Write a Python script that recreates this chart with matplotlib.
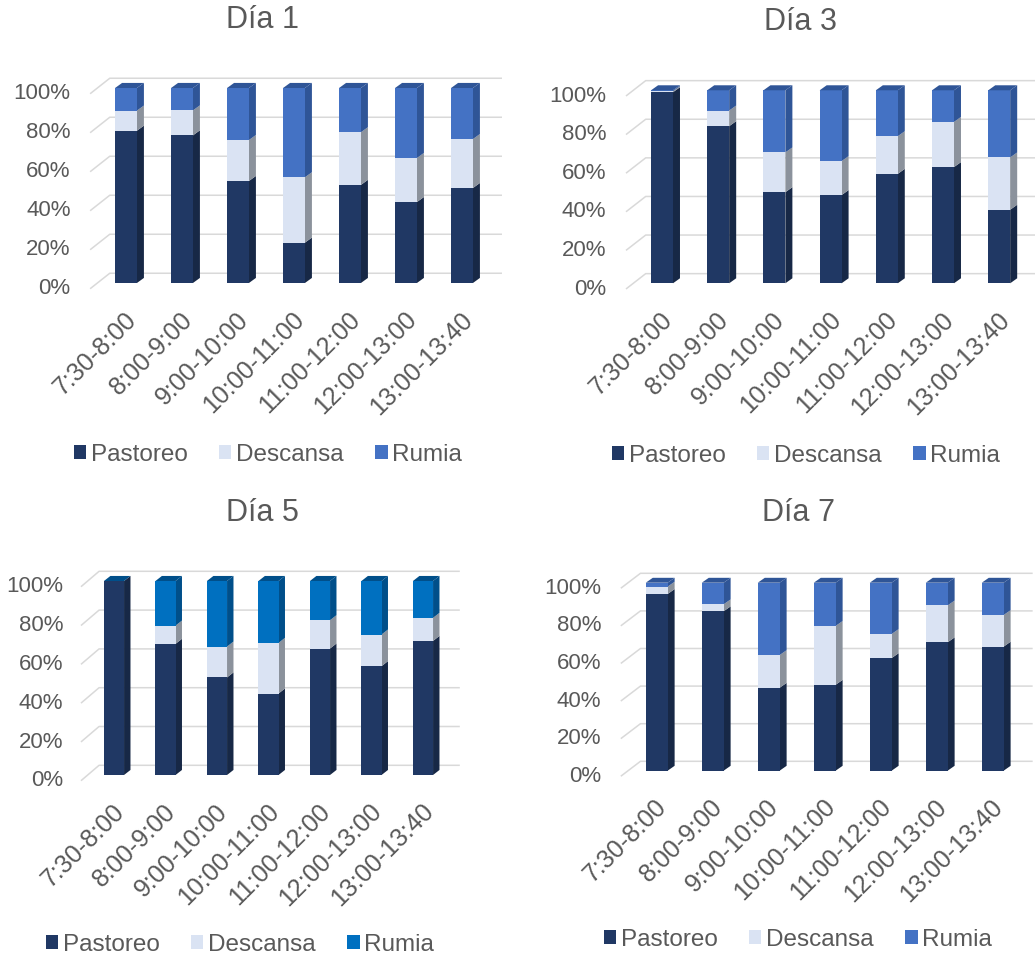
import matplotlib.pyplot as plt
from matplotlib.patches import Polygon
from matplotlib.transforms import ScaledTranslation

plt.rcParams['font.family'] = ['Liberation Sans', 'DejaVu Sans']

franjas = ["7:30-8:00", "8:00-9:00", "9:00-10:00", "10:00-11:00",
           "11:00-12:00", "12:00-13:00", "13:00-13:40"]
conductas = ["Pastoreo", "Descansa", "Rumia"]
dias = ["Día 1", "Día 3", "Día 5", "Día 7"]

# porcentaje de observaciones por franja horaria
pastoreo_d1 = [78.1, 75.7, 52.3, 20.7, 50.3, 41.5, 48.7]
descansa_d1 = [10.3, 12.8, 21.0, 33.5, 27.0, 22.6, 25.1]
rumia_d1 = [11.6, 11.5, 26.7, 45.8, 22.7, 35.9, 26.2]

pastoreo_d3 = [99.0, 81.4, 47.2, 45.7, 56.7, 60.2, 38.1]
descansa_d3 = [0.5, 8.1, 20.6, 17.6, 19.5, 23.4, 27.1]
rumia_d3 = [0.5, 10.5, 32.2, 36.7, 23.8, 16.4, 34.8]

pastoreo_d5 = [100.0, 67.6, 50.3, 42.0, 65.2, 56.1, 69.1]
descansa_d5 = [0.0, 9.4, 15.9, 26.1, 14.6, 16.3, 11.9]
rumia_d5 = [0.0, 23.0, 33.8, 31.9, 20.2, 27.6, 19.0]

pastoreo_d7 = [94.0, 84.8, 44.1, 45.7, 59.9, 68.3, 66.0]
descansa_d7 = [3.9, 3.7, 17.4, 31.3, 12.8, 19.6, 16.8]
rumia_d7 = [2.1, 11.5, 38.5, 23.0, 27.3, 12.1, 17.2]

yticks = [0, 20, 40, 60, 80, 100]

datos = [
    [pastoreo_d1, descansa_d1, rumia_d1],
    [pastoreo_d3, descansa_d3, rumia_d3],
    [pastoreo_d5, descansa_d5, rumia_d5],
    [pastoreo_d7, descansa_d7, rumia_d7],
]

# (frente, lateral) por conducta
azul = [("#203864", "#172846"), ("#dae3f3", "#8b929c"), ("#4472c4", "#2f5597")]
azul_d5 = [("#203864", "#172846"), ("#dae3f3", "#8b929c"), ("#0070c0", "#004f8a")]
paletas = [azul, azul, azul_d5, azul]

# posicion de cada panel en pixeles: centro primera barra, paso, base 0%, alto de 100%
paneles = [
    dict(x0=126, paso=56.0, y0=283.0, alto=195, titulo=(263, 20), ley=(268, 455)),
    dict(x0=662, paso=56.2, y0=283.3, alto=193, titulo=(800, 22), ley=(806, 456)),
    dict(x0=114, paso=51.5, y0=775.0, alto=194, titulo=(262, 513), ley=(240, 945)),
    dict(x0=656.7, paso=56.0, y0=770.7, alto=188, titulo=(798, 513), ley=(798, 940)),
]

W, H = 1035, 961
fig = plt.figure(figsize=(W / 100, H / 100), dpi=100)

gris = "#595959"
ancho = 0.39
dx, dy = 0.125, 2.6
xmin, xmax = -0.75, 6.75
ymin, ymax = -6, 112
desplazar = ScaledTranslation(-2 / 100, -3 / 100, fig.dpi_scale_trans)

for dia, series, pal, p in zip(dias, datos, paletas, paneles):
    izq = p["x0"] + xmin * p["paso"]
    der = p["x0"] + xmax * p["paso"]
    abajo = p["y0"] - ymin * p["alto"] / 100
    arriba = p["y0"] - ymax * p["alto"] / 100
    ax = fig.add_axes([izq / W, 1 - abajo / H, (der - izq) / W, (abajo - arriba) / H])
    ax.set_xlim(xmin, xmax)
    ax.set_ylim(ymin, ymax)
    for s in ax.spines.values():
        s.set_visible(False)

    # lineas de cuadricula con perspectiva
    for t in yticks:
        ax.plot([-0.63, -0.29, 6.7], [t - 2.7, t + 5, t + 5], color="#d9d9d9",
                lw=1.1, zorder=0, clip_on=False)
        ax.text(-0.99, t - 3, f"{t}%", ha="right", va="center", fontsize=16,
                color=gris, clip_on=False)
    ax.set_yticks([])

    xs = range(len(franjas))
    base = [0.0] * len(franjas)
    handles = []
    for nombre, vals, (frente, lado) in zip(conductas, series, pal):
        h = ax.bar(xs, vals, ancho, bottom=base, color=frente, label=nombre, zorder=2)
        handles.append(h)
        for x, b, v in zip(xs, base, vals):
            if v <= 0:
                continue
            xr = x + ancho / 2
            ax.add_patch(Polygon([(xr, b), (xr + dx, b + dy), (xr + dx, b + v + dy), (xr, b + v)],
                                 closed=True, facecolor=lado, edgecolor="none", zorder=1.5))
        base = [b + v for b, v in zip(base, vals)]

    # tapa superior de cada columna
    tapa = pal[-1][1]
    for x, tope in zip(xs, base):
        xl, xr = x - ancho / 2, x + ancho / 2
        ax.add_patch(Polygon([(xl, tope), (xl + dx, tope + dy), (xr + dx, tope + dy), (xr, tope)],
                             closed=True, facecolor=tapa, edgecolor="none", zorder=2.5))

    ax.set_xticks(list(xs))
    ax.set_xticklabels(franjas, rotation=45, ha="right", rotation_mode="anchor",
                       fontsize=18, color=gris)
    ax.tick_params(axis="x", length=0, pad=7)
    for lab in ax.get_xticklabels():
        lab.set_transform(lab.get_transform() + desplazar)

    fig.text(p["titulo"][0] / W, 1 - p["titulo"][1] / H, dia, ha="center", va="center",
             fontsize=22, color=gris)
    fig.legend(handles=handles, labels=conductas, loc="center",
               bbox_to_anchor=(p["ley"][0] / W, 1 - p["ley"][1] / H), ncol=3,
               frameon=False, fontsize=17.5, labelcolor=gris, handlelength=0.5,
               handleheight=0.5, handletextpad=0.2, columnspacing=1.3)

fig.savefig("out.png", dpi=100, facecolor="white")
